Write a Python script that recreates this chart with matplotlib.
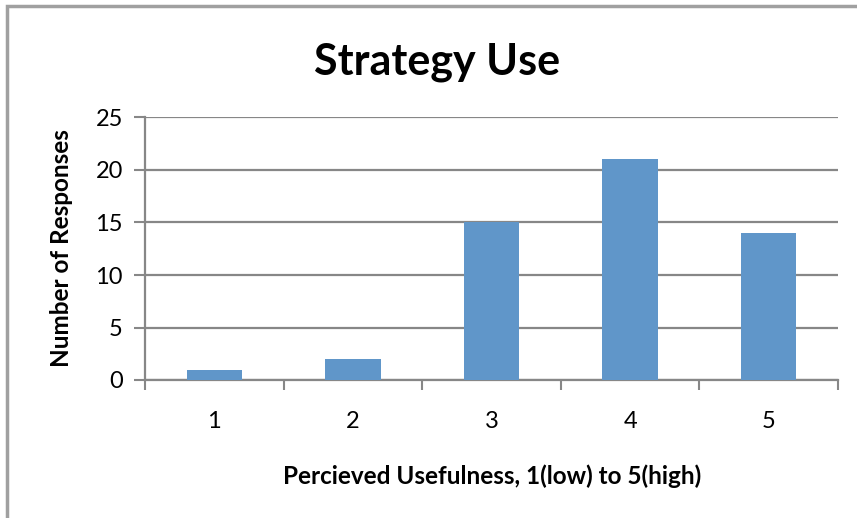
import matplotlib.pyplot as plt
from matplotlib.patches import Rectangle

categories = ["1", "2", "3", "4", "5"]
responses = [1, 2, 15, 21, 14]
yticks = [0, 5, 10, 15, 20, 25]

plt.rcParams['font.family'] = ['Lato', 'DejaVu Sans']

fig = plt.figure(figsize=(8.57, 5.18), dpi=100)
ax = fig.add_axes([145/857, 138/518, 693/857, 262.5/518])

grey = "#878787"
xpos = list(range(1, len(categories) + 1))
ax.bar(xpos, responses, width=0.4, color="#6096c9", zorder=3)

ax.set_xlim(0.5, 5.5)
ax.set_ylim(0, 25)
ax.set_yticks(yticks)
ax.set_yticklabels([str(v) for v in yticks], fontsize=17)
ax.set_xticks(xpos)
ax.set_xticklabels(categories, fontsize=17)
ax.set_xticks([x + 0.5 for x in range(0, 6)], minor=True)
ax.tick_params(axis="x", which="major", length=0, pad=22)
ax.tick_params(axis="x", which="minor", length=7, width=1.5, color=grey)
ax.tick_params(axis="y", length=8, width=1.5, color=grey, pad=8)
ax.yaxis.grid(True, color=grey, linewidth=1.6, zorder=0)

for s in ["top", "right"]:
    ax.spines[s].set_visible(False)
for s in ["left", "bottom"]:
    ax.spines[s].set_color(grey)
    ax.spines[s].set_linewidth(1.6)

fig.text(437/857, 1 - 62/518, "Strategy Use", fontsize=31, fontweight="bold",
         ha="center", va="center")
fig.text(492/857, 1 - 476/518, "Percieved Usefulness, 1(low) to 5(high)",
         fontsize=17.5, fontweight="bold", ha="center", va="center")
fig.text(62/857, 1 - 248/518, "Number of Responses", fontsize=17.5,
         fontweight="bold", ha="center", va="center", rotation=90)

# chart frame, only top and left edges show in the crop
fig.patches.append(Rectangle((7/857, -0.1), 1.2, 1 - 6/518 + 0.1,
                             transform=fig.transFigure, fill=False,
                             edgecolor="#a0a0a0", linewidth=2.5))

fig.savefig("out.png", dpi=100)
